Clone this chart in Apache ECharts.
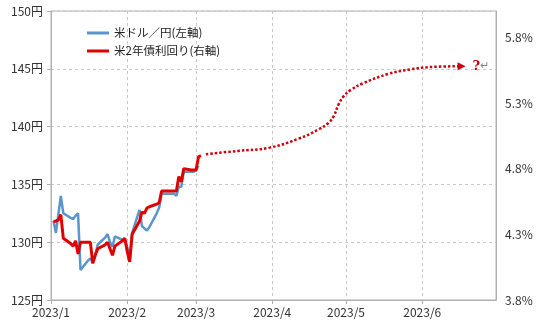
<!DOCTYPE html>
<html><head><meta charset="utf-8">
<script src="https://cdn.jsdelivr.net/npm/echarts@6/dist/echarts.min.js"></script>
<style>html,body{margin:0;padding:0;background:#fff}#c{width:540px;height:326px}</style>
</head><body><div id="c"></div>
<script>
const usdDates = ['2023-01-02','2023-01-03','2023-01-04','2023-01-05','2023-01-06','2023-01-09','2023-01-10','2023-01-11','2023-01-12','2023-01-13','2023-01-16','2023-01-17','2023-01-18','2023-01-19','2023-01-20','2023-01-23','2023-01-24','2023-01-25','2023-01-26','2023-01-27','2023-01-30','2023-01-31','2023-02-01','2023-02-02','2023-02-03','2023-02-06','2023-02-07','2023-02-08','2023-02-09','2023-02-10','2023-02-13','2023-02-14','2023-02-15','2023-02-16','2023-02-17','2023-02-20','2023-02-21','2023-02-22','2023-02-23','2023-02-24','2023-02-27','2023-02-28','2023-03-01','2023-03-02'];
const usdValues = [131.85,130.8,132.4,134.0,132.5,132.1,132.0,132.3,132.5,127.6,128.4,128.6,128.2,128.9,129.8,130.4,130.7,130.0,129.6,130.5,130.2,130.3,129.6,128.4,130.8,132.8,131.4,131.2,131.0,131.3,132.5,133.0,134.2,134.2,134.2,134.2,134.0,134.8,134.8,136.1,136.1,136.1,136.2,136.6];

const yieldDates = ['2023-01-02','2023-01-03','2023-01-04','2023-01-05','2023-01-06','2023-01-09','2023-01-10','2023-01-11','2023-01-12','2023-01-13','2023-01-16','2023-01-17','2023-01-18','2023-01-19','2023-01-20','2023-01-23','2023-01-24','2023-01-25','2023-01-26','2023-01-27','2023-01-30','2023-01-31','2023-02-01','2023-02-02','2023-02-03','2023-02-06','2023-02-07','2023-02-08','2023-02-09','2023-02-10','2023-02-13','2023-02-14','2023-02-15','2023-02-16','2023-02-17','2023-02-20','2023-02-21','2023-02-22','2023-02-23','2023-02-24','2023-02-27','2023-02-28','2023-03-01','2023-03-02','2023-03-03'];
const yieldValues = [4.40,4.40,4.41,4.45,4.27,4.23,4.21,4.25,4.15,4.24,4.24,4.24,4.08,4.14,4.19,4.22,4.24,4.19,4.14,4.21,4.25,4.27,4.17,4.09,4.30,4.40,4.47,4.46,4.50,4.51,4.53,4.54,4.63,4.63,4.63,4.63,4.63,4.74,4.70,4.80,4.79,4.79,4.79,4.89,4.90];

const forecastDates = ['2023-03-05','2023-03-18','2023-03-31','2023-04-12','2023-04-20','2023-04-24','2023-04-26','2023-04-28','2023-04-30','2023-05-03','2023-05-08','2023-05-18','2023-05-27','2023-06-04','2023-06-17'];
const forecastValues = [4.91,4.935,4.96,5.03,5.10,5.15,5.20,5.29,5.35,5.40,5.45,5.52,5.555,5.573,5.58];

const leftTicks = [125,130,135,140,145,150];
const rightTicks = [3.8,4.3,4.8,5.3,5.8];
const legendNames = ['米ドル／円(左軸)','米2年債利回り(右軸)'];
const forecastLabel = '?';

const FONT = '"Noto Sans CJK JP", "Noto Sans", sans-serif';
const gridColor = '#c8c8c8';
const axisColor = '#b0b0b0';
const blue = '#5a96cc';
const red = '#e00000';
const dotRed = '#cc0010';

const chart = echarts.init(document.getElementById('c'), null, {renderer:'canvas'});
const fData = forecastDates.map((d,i)=>{
  const item = {value:[d, forecastValues[i]]};
  if (i === forecastDates.length-1) {
    item.symbol = 'triangle';
    item.symbolSize = [8,8];
    item.symbolRotate = -90;
    item.label = {
      show:true, position:'right', distance:7,
      formatter: '{q|' + forecastLabel + '}{r|↵}',
      rich:{
        q:{color:'#c00000', fontSize:13, fontFamily:'"DejaVu Serif", serif', fontWeight:'bold'},
        r:{color:'#888', fontSize:11, fontFamily:'"DejaVu Sans", sans-serif'}
      }
    };
  }
  return item;
});

chart.setOption({
  animation:false,
  backgroundColor:'#fff',
  textStyle:{fontFamily:FONT},
  grid:{left:51, right:44, top:11, bottom:26, show:true, borderColor:axisColor, borderWidth:1},
  legend:{
    data:legendNames, orient:'vertical', left:82, top:21, itemWidth:22, itemHeight:3, itemGap:4,
    icon:'rect',
    textStyle:{fontFamily:FONT, fontSize:11.5, color:'#222', lineHeight:14}
  },
  xAxis:{
    type:'time', min:'2023-01-01', max:'2023-07-01', splitNumber:7,
    axisLine:{show:true, lineStyle:{color:axisColor}},
    axisTick:{show:true, length:4, lineStyle:{color:axisColor}},
    splitLine:{show:true, lineStyle:{color:gridColor, type:[3,3]}},
    axisLabel:{
      color:'#333', fontSize:12, fontFamily:FONT, margin:6, showMaxLabel:false, hideOverlap:false,
      formatter:function(v){ const d=new Date(v); if (d.getMonth()===6) return ''; return d.getFullYear()+'/'+(d.getMonth()+1); }
    }
  },
  yAxis:[
    {
      type:'value', min:leftTicks[0], max:leftTicks[leftTicks.length-1], interval:5,
      axisLine:{show:true, lineStyle:{color:axisColor}},
      axisTick:{show:true, length:4, lineStyle:{color:axisColor}},
      splitLine:{show:true, lineStyle:{color:gridColor, type:[3,3]}},
      axisLabel:{color:'#333', fontSize:12, fontFamily:FONT, margin:8, formatter:'{value}円'}
    },
    {
      type:'value', min:3.8, max:6.0, interval:0.1, position:'right',
      axisLine:{show:true, lineStyle:{color:axisColor}},
      axisTick:{show:false},
      splitLine:{show:false},
      axisLabel:{color:'#333', fontSize:12, fontFamily:FONT, margin:9,
        formatter:function(v){
          for (const t of rightTicks) if (Math.abs(v-t)<1e-6) return t.toFixed(1)+'%';
          return '';
        }}
    }
  ],
  series:[
    {
      name:legendNames[0], type:'line', yAxisIndex:0, symbol:'none',
      data:usdDates.map((d,i)=>[d, usdValues[i]]),
      lineStyle:{color:blue, width:2.5}, itemStyle:{color:blue}, z:2
    },
    {
      name:legendNames[1], type:'line', yAxisIndex:1, symbol:'none',
      data:yieldDates.map((d,i)=>[d, yieldValues[i]]),
      lineStyle:{color:red, width:3}, itemStyle:{color:red}, z:3
    },
    {
      name:'forecast', type:'line', yAxisIndex:1, symbol:'none', showAllSymbol:true, smooth:0.4,
      data:fData,
      lineStyle:{color:dotRed, width:2.5, type:[2.5,2], cap:'butt'}, itemStyle:{color:dotRed}, z:3
    }
  ]
});
</script></body></html>
